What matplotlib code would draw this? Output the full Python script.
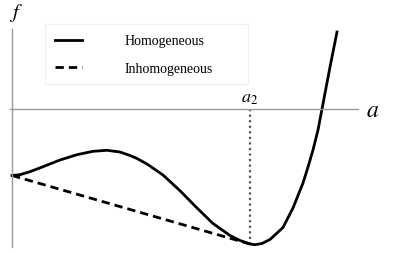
import matplotlib

matplotlib.use("Agg")
import matplotlib.pyplot as plt
from matplotlib.patches import Rectangle

# free energy of the homogeneous state
a_vals = [0.00, 0.08, 0.18, 0.31, 0.48, 0.65, 0.81, 0.95, 1.08, 1.18, 1.25,
          1.35, 1.51, 1.68, 1.85, 2.01, 2.18, 2.28, 2.38, 2.43, 2.50, 2.58,
          2.71, 2.81, 2.91, 2.96, 3.01, 3.06, 3.10, 3.14, 3.18, 3.22, 3.25]
f_vals = [-0.665, -0.657, -0.627, -0.577, -0.51, -0.457, -0.423, -0.413, -0.43,
          -0.465, -0.495, -0.55, -0.66, -0.817, -0.99, -1.145, -1.265, -1.315,
          -1.35, -1.357, -1.345, -1.305, -1.185, -0.99, -0.74, -0.58, -0.41,
          -0.21, 0.0, 0.21, 0.42, 0.62, 0.77]

# common tangent (inhomogeneous state)
tangent_a = [0.0, 2.38]
tangent_f = [-0.665, -1.35]

a2 = 2.38
f_a2 = -1.36

labels = ["Homogeneous", "Inhomogeneous"]

plt.rcParams["mathtext.fontset"] = "stix"

fig = plt.figure(figsize=(4.09, 2.55), dpi=100)
ax = fig.add_axes([0, 0, 1, 1])
ax.set_xlim(-0.12, 3.97)
ax.set_ylim(-1.45, 1.10)

for side in ("top", "right"):
    ax.spines[side].set_visible(False)
ax.spines["left"].set_position(("data", 0))
ax.spines["bottom"].set_position(("data", 0))
ax.spines["left"].set_bounds(-1.38, 0.80)
ax.spines["bottom"].set_bounds(-0.02, 3.46)
for side in ("left", "bottom"):
    ax.spines[side].set_color("#999999")
    ax.spines[side].set_linewidth(1.0)
ax.set_xticks([])
ax.set_yticks([])
ax.patch.set_alpha(0)

ax.plot([a2, a2], [0, f_a2], color="#555555", linestyle=(0, (1, 1.5)), lw=1.6)
ax.plot(a_vals, f_vals, color="black", lw=2.0, label=labels[0],
        solid_joinstyle="round")
ax.plot(tangent_a, tangent_f, color="black", lw=2.0, linestyle=(0, (3, 1.8)),
        label=labels[1])

ax.text(0.04, 0.97, "$f$", fontsize=15, ha="center", va="center")
ax.text(3.61, 0.0, "$a$", fontsize=17, ha="center", va="center")
ax.text(a2, 0.03, "$a_2$", fontsize=13, ha="center", va="bottom")

# faint legend box
fig.patches.append(Rectangle((45 / 409, 1 - 85 / 255), 203 / 409, 60 / 255,
                             transform=fig.transFigure, fill=False,
                             edgecolor="#f0f0f0", lw=0.8))
fig.legend(loc="upper left", bbox_to_anchor=(45 / 409, 1 - 25 / 255),
           prop={"family": "Liberation Serif", "size": 10},
           handlelength=1.9, handletextpad=3.1, labelspacing=1.05,
           borderpad=0.75, borderaxespad=0, frameon=False)

fig.savefig("out.png", dpi=100, facecolor="white")
